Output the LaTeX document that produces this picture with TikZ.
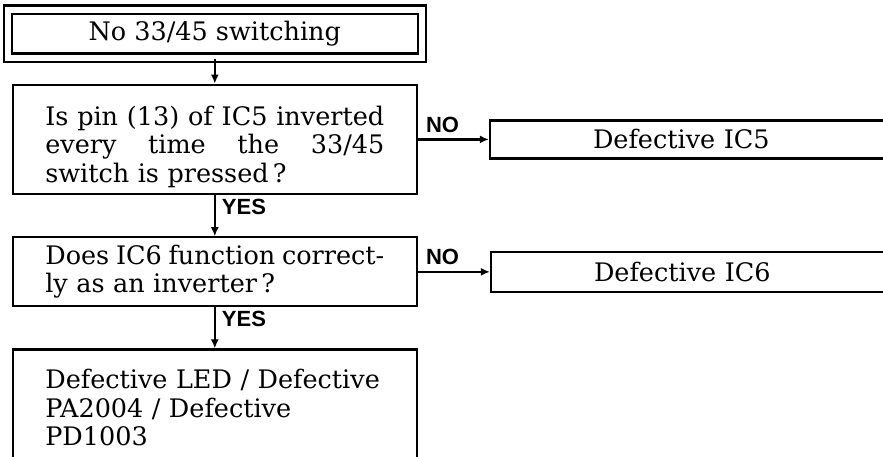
\documentclass[tikz,border=0pt]{standalone}
\usepackage{fontspec}
\setmainfont{DejaVu Serif}
\newfontfamily\tagfont{Liberation Sans}
\usetikzlibrary{arrows.meta,positioning}

\begin{document}
\begin{tikzpicture}[
  x=1pt,y=1pt,
  node distance=20.5pt,
  box/.style={rectangle,draw,line width=1.1pt,font=\fontsize{12.75}{14.2}\selectfont},
  ask/.style={box,minimum width=202pt,text width=169.5pt,align=left},
  fault/.style={box,minimum height=19pt,inner xsep=51.5pt,text width=120pt,align=left},
  tag/.style={font=\tagfont\bfseries\fontsize{11}{13}\selectfont,inner sep=1pt},
  arr/.style={-{Latex[length=4.5pt,width=4pt]},line width=1.1pt}
]
\useasboundingbox (0,0) rectangle (441.5,-228);
\clip (0,0) rectangle (441.5,-228);
\node[box,double,double distance=3pt,minimum width=207pt,minimum height=24pt] (start) at (107.4,-16.75) {No 33/45 switching};
\node[ask,minimum height=52.5pt,below=12.5pt of start] (ask5) {\rule{0pt}{17pt}Is\hfill pin\hfill (13)\hfill of\hfill IC5\hfill inverted\\every\hfill time\hfill the\hfill 33/45\\switch is pressed\,?};
\node[ask,minimum height=34.5pt,below=of ask5] (ask6) {Does\hfill IC6\hfill function\hfill correct-\\ly as an inverter\,?};
\node[ask,minimum height=58pt,below=of ask6] (leds) {Defective LED / Defective\\PA2004 / Defective\\PD1003};
\node[fault,right=35.5pt of ask5] (ic5) {Defective IC5};
\node[fault,minimum height=20pt,right=36pt of ask6] (ic6) {Defective IC6};
% connectors
\draw[arr] (start) -- (ask5);
\draw[arr] (ask5) -- node[tag,pos=0,anchor=north west,xshift=2pt,yshift=-0.5pt] (yes5) {YES} (ask6);
\draw[arr] (ask6) -- node[tag,pos=0,anchor=north west,xshift=2pt,yshift=-0.5pt] (yes6) {YES} (leds);
\draw[arr] (ask5) -- node[tag,pos=0,anchor=south west,xshift=2.5pt,yshift=2pt] (no5) {NO} (ic5);
\draw[arr] (ask6) -- node[tag,pos=0,anchor=south west,xshift=2.5pt,yshift=2pt] (no6) {NO} (ic6);
\end{tikzpicture}
\end{document}
